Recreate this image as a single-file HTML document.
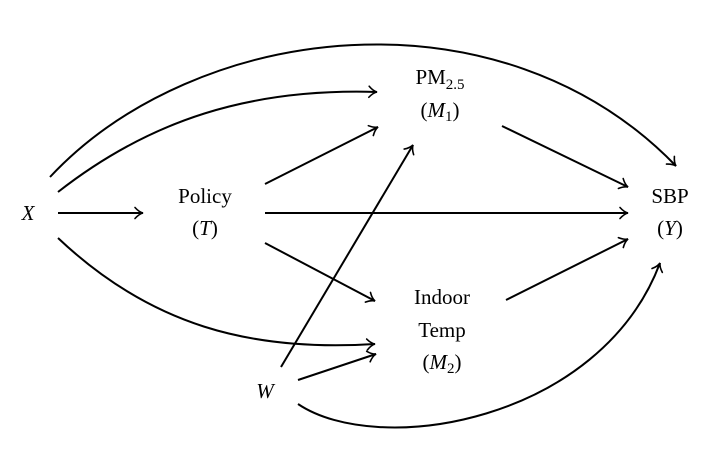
<!DOCTYPE html>
<html><head><meta charset="utf-8">
<style>
html,body{margin:0;padding:0;background:#fff;}
svg{display:block}
text{font-family:"Liberation Serif",serif;font-size:21px;fill:#000}
.i{font-style:italic}
</style></head>
<body>
<svg width="724" height="466" viewBox="0 0 724 466" xmlns="http://www.w3.org/2000/svg">
<defs>
<marker id="a" markerWidth="14" markerHeight="14" refX="10" refY="7" orient="auto" markerUnits="userSpaceOnUse">
<path d="M2,1.5 Q6,6 10,7 Q6,8 2,12.5" fill="none" stroke="#000" stroke-width="1.6" stroke-linecap="round"/>
</marker>
</defs>
<g fill="none" stroke="#000" stroke-width="2" marker-end="url(#a)">
<path d="M58,213 L143,213"/>
<path d="M265,213 L628,213"/>
<path d="M265,184 L378,127"/>
<path d="M265,243 L375,301"/>
<path d="M502,126 L628,187"/>
<path d="M506,300 L628,239"/>
<path d="M281,367 L413,145"/>
<path d="M298,380 L376,354"/>
<path d="M298,404 C378,458 600,422 660,263"/>
<path d="M58,192 C150,120 250,88 377,92"/>
<path d="M50,177 C195,22 500,-16 676,166"/>
<path d="M58,238 C150,325 250,352 375,344"/>
</g>
<text x="28" y="220" text-anchor="middle" class="i">X</text>
<text x="205" y="203" text-anchor="middle">Policy</text>
<text x="205" y="235" text-anchor="middle">(<tspan class="i">T</tspan>)</text>
<text x="440" y="84" text-anchor="middle">PM<tspan font-size="15" dy="5">2.5</tspan></text>
<text x="440" y="117" text-anchor="middle">(<tspan class="i">M</tspan><tspan font-size="15" dy="4">1</tspan><tspan dy="-4">)</tspan></text>
<text x="670" y="203" text-anchor="middle">SBP</text>
<text x="670" y="235" text-anchor="middle">(<tspan class="i">Y</tspan>)</text>
<text x="442" y="304" text-anchor="middle">Indoor</text>
<text x="442" y="337" text-anchor="middle">Temp</text>
<text x="442" y="369" text-anchor="middle">(<tspan class="i">M</tspan><tspan font-size="15" dy="4">2</tspan><tspan dy="-4">)</tspan></text>
<text x="265" y="398" text-anchor="middle" class="i">W</text>
</svg>
</body></html>
